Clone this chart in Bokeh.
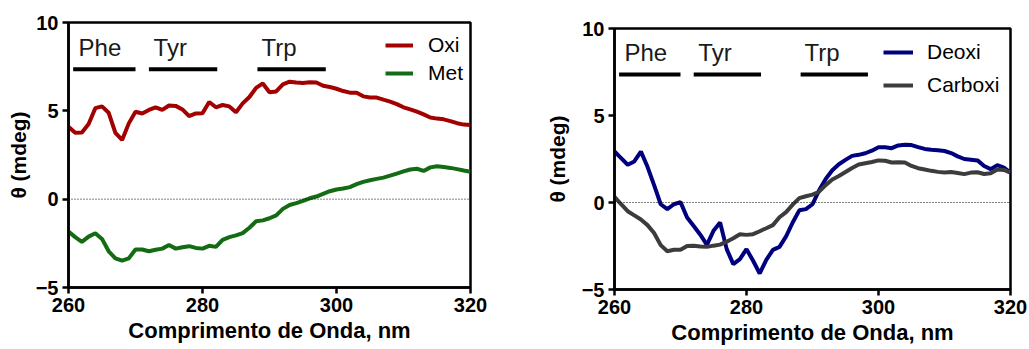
from bokeh.plotting import figure
from bokeh.models import Range1d, FixedTicker, Span, Legend, LegendItem, ColumnDataSource, Spacer
from bokeh.layouts import row, column
from bokeh.embed import file_html
from bokeh.resources import INLINE
from bokeh.core.properties import value

# ---------------- data ----------------
wavelength = list(range(260, 321))

oxi = [4.10, 3.76, 3.78, 4.25, 5.15, 5.25, 4.89, 3.75, 3.35, 4.29,
       4.95, 4.85, 5.05, 5.20, 5.05, 5.30, 5.28, 5.08, 4.70, 4.85,
       4.86, 5.50, 5.20, 5.33, 5.25, 4.92, 5.42, 5.78, 6.30, 6.55,
       6.05, 6.10, 6.50, 6.65, 6.60, 6.58, 6.62, 6.60, 6.42, 6.35,
       6.25, 6.12, 6.03, 6.02, 5.82, 5.75, 5.75, 5.63, 5.52, 5.38,
       5.20, 5.08, 4.95, 4.80, 4.62, 4.56, 4.52, 4.42, 4.30, 4.22, 4.20]

met = [-1.83, -2.15, -2.42, -2.12, -1.93, -2.25, -2.95, -3.35, -3.48, -3.35,
       -2.85, -2.85, -2.95, -2.86, -2.80, -2.60, -2.80, -2.72, -2.66, -2.76,
       -2.80, -2.64, -2.70, -2.30, -2.15, -2.05, -1.92, -1.62, -1.25, -1.20,
       -1.08, -0.92, -0.55, -0.33, -0.22, -0.10, 0.05, 0.15, 0.30, 0.45,
       0.55, 0.60, 0.68, 0.85, 0.98, 1.07, 1.15, 1.22, 1.33, 1.45,
       1.57, 1.68, 1.72, 1.60, 1.80, 1.86, 1.82, 1.77, 1.70, 1.62, 1.55]

deoxi = [2.93, 2.55, 2.17, 2.36, 2.93, 2.05, 1.00, -0.10, -0.38, -0.10,
         0.02, -0.86, -1.35, -1.85, -2.43, -1.63, -1.15, -2.68, -3.54, -3.25,
         -2.68, -3.35, -4.08, -3.30, -2.72, -2.55, -1.95, -1.15, -0.45, -0.38,
         -0.10, 0.70, 1.35, 1.85, 2.20, 2.45, 2.68, 2.74, 2.83, 2.98,
         3.18, 3.18, 3.12, 3.28, 3.32, 3.30, 3.18, 3.08, 3.03, 3.00,
         2.96, 2.84, 2.65, 2.50, 2.46, 2.42, 2.10, 1.92, 2.15, 2.01, 1.72]

carboxi = [0.33, -0.10, -0.50, -0.74, -0.98, -1.30, -1.75, -2.45, -2.80, -2.72,
           -2.72, -2.50, -2.48, -2.53, -2.55, -2.48, -2.42, -2.25, -2.05, -1.82,
           -1.86, -1.82, -1.65, -1.48, -1.30, -0.85, -0.55, -0.12, 0.25, 0.36,
           0.45, 0.62, 1.00, 1.32, 1.52, 1.75, 1.98, 2.18, 2.26, 2.33,
           2.42, 2.40, 2.30, 2.32, 2.30, 2.10, 1.97, 1.90, 1.82, 1.76,
           1.72, 1.75, 1.70, 1.63, 1.72, 1.74, 1.64, 1.68, 1.90, 1.87, 1.72]

region_names = ["Phe", "Tyr", "Trp"]
region_start = [260.7, 272.0, 288.2]
region_end = [270.0, 282.2, 298.4]
region_label_x = [261.5, 272.7, 288.8]
region_label_y = [8.6, 8.6, 8.6]
region_bar_y = [7.35, 7.35, 7.35]

x_ticks = [260, 280, 300, 320]
y_ticks = [-5, 0, 5, 10]

x_title = "Comprimento de Onda, nm"
y_title = "θ (mdeg)"

FONT = "Liberation Sans"


def make_panel(series, names, colors, frame_w, frame_h, b_left, b_right,
               ytitle_standoff, legend_loc, legend_spacing, glyph_w, lbl_standoff):
    p = figure(frame_width=frame_w, frame_height=frame_h,
               min_border_left=b_left, min_border_top=22,
               min_border_right=b_right, min_border_bottom=0,
               x_range=Range1d(260, 320), y_range=Range1d(-5, 10),
               output_backend="svg", toolbar_location=None)
    p.grid.visible = False
    p.outline_line_color = "black"
    p.outline_line_width = 2.5
    p.outline_line_alpha = 1.0
    p.background_fill_color = "white"
    p.border_fill_color = "white"

    for ax in (p.xaxis[0], p.yaxis[0]):
        ax.axis_line_width = 2.5
        ax.axis_line_color = "black"
        ax.major_tick_line_width = 2.5
        ax.major_tick_line_color = "black"
        ax.major_tick_out = 6
        ax.major_tick_in = 0
        ax.minor_tick_line_color = None
        ax.major_label_text_font = FONT
        ax.major_label_text_font_style = "bold"
        ax.major_label_text_font_size = "20px"
        ax.major_label_text_color = "black"
        ax.axis_label_text_font = FONT
        ax.axis_label_text_font_style = "bold"
        ax.axis_label_text_color = "black"

    p.xaxis.ticker = FixedTicker(ticks=x_ticks)
    p.yaxis.ticker = FixedTicker(ticks=y_ticks)
    p.xaxis.axis_label = x_title
    p.yaxis.axis_label = y_title
    p.xaxis.axis_label_text_font_size = "22px"
    p.yaxis.axis_label_text_font_size = "21px"
    p.xaxis.major_label_standoff = 4
    p.xaxis.axis_label_standoff = 3
    p.yaxis.major_label_standoff = 4
    p.yaxis.axis_label_standoff = ytitle_standoff

    p.add_layout(Span(location=0, dimension="width", line_color="black",
                      line_width=1, line_dash="1 2"))

    # amino-acid regions
    reg = ColumnDataSource(dict(name=region_names, x0=region_start, x1=region_end,
                                lx=region_label_x, ly=region_label_y, by=region_bar_y))
    p.segment(x0="x0", y0="by", x1="x1", y1="by", source=reg,
              line_color="black", line_width=4, line_cap="butt")
    p.text(x="lx", y="ly", text="name", source=reg, text_font=value(FONT),
           text_font_size="24px", text_color="#1a1a1a", text_baseline="alphabetic",
           text_align="left")

    items = []
    for ys, nm, col in zip(series, names, colors):
        r = p.line(wavelength, ys, line_color=col, line_width=4)
        items.append(LegendItem(label=nm, renderers=[r]))

    leg = Legend(items=items, location=legend_loc, padding=0, margin=0,
                 spacing=legend_spacing, glyph_width=glyph_w, glyph_height=24,
                 label_height=24, label_standoff=lbl_standoff,
                 label_text_font=FONT, label_text_font_size="21px",
                 label_text_color="black",
                 border_line_alpha=0, background_fill_alpha=0)
    p.add_layout(leg)
    return p


left = make_panel([oxi, met], ["Oxi", "Met"], ["#a30000", "#136b13"],
                  402, 265, 68, 60, 3, (317, 202), 4, 28, 15)
right = make_panel([deoxi, carboxi], ["Deoxi", "Carboxi"], ["#00007f", "#3c3c3c"],
                   396, 261, 84, 19, 10, (269, 192), 9, 30, 14)

layout = row(left, column(Spacer(height=6, width=10), right))
open("out.html", "w").write(file_html(layout, INLINE))
